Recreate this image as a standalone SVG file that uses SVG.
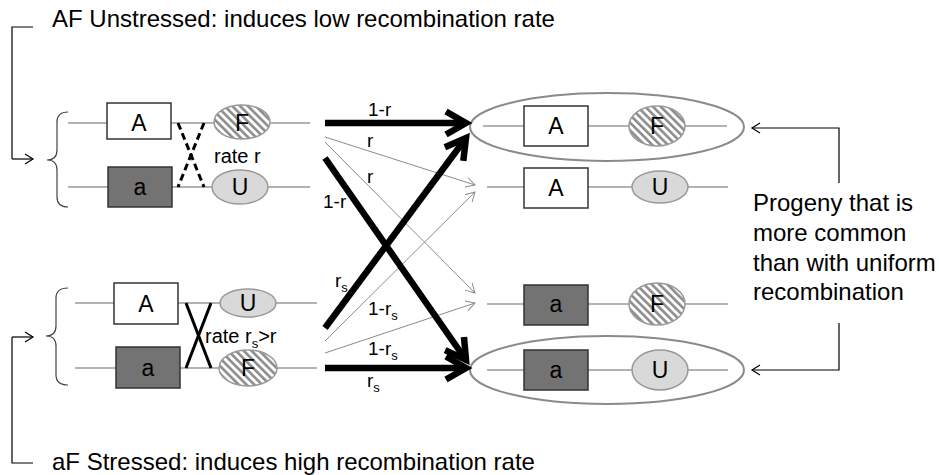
<svg xmlns="http://www.w3.org/2000/svg" width="939" height="475" viewBox="0 0 939 475">
<style>
text{font-family:"Liberation Sans",Arial,sans-serif;fill:#000}
.big{font-size:24px}
.gl{font-size:23px;text-anchor:middle}
.lab{font-size:19px}
.sub{font-size:13px}
.chr{stroke:#999;stroke-width:1.5;fill:none}
.boxA{fill:#fff;stroke:#333;stroke-width:1.5}
.boxa{fill:#737373;stroke:#333;stroke-width:1.5}
.elU{fill:#d9d9d9;stroke:#999;stroke-width:1.5}
.elF{fill:url(#hatch);stroke:#999;stroke-width:1.5}
.big-el{fill:none;stroke:#8a8a8a;stroke-width:2}
.thick{stroke:#000;stroke-width:6.5;fill:none;marker-end:url(#bigHead)}
.thin{stroke:#8c8c8c;stroke-width:1;fill:none;marker-end:url(#thinHead)}
.ann{stroke:#000;stroke-width:1.2;fill:none}
.annA{stroke:#000;stroke-width:1.2;fill:none;marker-end:url(#annHead)}
.brace{stroke:#444;stroke-width:1.2;fill:none}
</style>
<defs>
<pattern id="hatch" patternUnits="userSpaceOnUse" width="5.5" height="5.5" patternTransform="rotate(-45)">
<rect width="5.5" height="5.5" fill="#fff"/>
<rect width="2.6" height="5.5" fill="#8c8c8c"/>
</pattern>
<marker id="bigHead" markerUnits="userSpaceOnUse" viewBox="-26 -14 30 28" refX="0" refY="0" markerWidth="30" markerHeight="28" orient="auto" overflow="visible">
<path d="M-20,-11.5 L0,0 L-20,11.5" fill="none" stroke="#000" stroke-width="6.5" stroke-linejoin="miter"/>
</marker>
<marker id="thinHead" markerUnits="userSpaceOnUse" viewBox="-10 -6 12 12" refX="0" refY="0" markerWidth="12" markerHeight="12" orient="auto" overflow="visible">
<path d="M-9,-5 L0,0 L-9,5" fill="none" stroke="#8c8c8c" stroke-width="1"/>
</marker>
<marker id="annHead" markerUnits="userSpaceOnUse" viewBox="-10 -6 12 12" refX="0" refY="0" markerWidth="12" markerHeight="12" orient="auto" overflow="visible">
<path d="M-8,-5 L0,0 L-8,5" fill="none" stroke="#000" stroke-width="1.2"/>
</marker>
</defs>
<rect width="939" height="475" fill="#fff"/>

<g id="title-top">
<text class="big" x="52" y="27">AF Unstressed: induces low recombination rate</text>
</g>
<g id="title-bottom">
<text class="big" x="52" y="470">aF Stressed: induces high recombination rate</text>
</g>

<g id="parent-AF">
<path class="brace" d="M68,112 Q57,112 57,122 L57,150 Q57,160 47,160 Q57,160 57,170 L57,197 Q57,207 68,207"/>
<line class="chr" x1="68" y1="123" x2="310" y2="123"/>
<rect class="boxA" x="107" y="103" width="64" height="36"/>
<text class="gl" x="139" y="131">A</text>
<ellipse class="elF" cx="242" cy="122" rx="28" ry="17"/>
<text class="gl" x="242" y="131">F</text>
<line class="chr" x1="68" y1="187" x2="310" y2="187"/>
<rect class="boxa" x="108" y="167" width="64" height="40"/>
<text class="gl" x="140" y="195">a</text>
<ellipse class="elU" cx="240" cy="187" rx="28" ry="17"/>
<text class="gl" x="240" y="195">U</text>
<line x1="178" y1="123" x2="204" y2="187" stroke="#000" stroke-width="3" stroke-dasharray="7,4"/>
<line x1="204" y1="123" x2="178" y2="187" stroke="#000" stroke-width="3" stroke-dasharray="7,4"/>
<text class="lab" x="214" y="163" style="font-size:20px">rate r</text>
</g>

<g id="parent-aF">
<path class="brace" d="M68,288 Q56,288 56,298 L56,326 Q56,336 46,336 Q56,336 56,346 L56,375 Q56,385 68,385"/>
<line class="chr" x1="75" y1="303" x2="317" y2="303"/>
<rect class="boxA" x="114" y="283" width="64" height="41"/>
<text class="gl" x="146" y="312">A</text>
<ellipse class="elU" cx="248" cy="303" rx="28" ry="14"/>
<text class="gl" x="248" y="311">U</text>
<line class="chr" x1="75" y1="368" x2="317" y2="368"/>
<rect class="boxa" x="116" y="347" width="64" height="41"/>
<text class="gl" x="148" y="376">a</text>
<ellipse class="elF" cx="248" cy="368" rx="29" ry="18"/>
<text class="gl" x="248" y="376">F</text>
<line x1="186" y1="303" x2="211" y2="368" stroke="#000" stroke-width="3"/>
<line x1="211" y1="303" x2="186" y2="368" stroke="#000" stroke-width="3"/>
<text x="205" y="343" style="font-size:20px">rate r<tspan class="sub" dy="5">s</tspan><tspan dy="-5">&gt;r</tspan></text>
</g>

<g id="progeny-AF">
<ellipse class="big-el" cx="607" cy="127" rx="137" ry="34"/>
<line class="chr" x1="483" y1="126" x2="727" y2="126"/>
<rect class="boxA" x="524" y="106" width="64" height="40"/>
<text class="gl" x="556" y="134">A</text>
<ellipse class="elF" cx="657" cy="126" rx="28" ry="20"/>
<text class="gl" x="657" y="134">F</text>
</g>
<g id="progeny-AU">
<line class="chr" x1="487" y1="187" x2="728" y2="187"/>
<rect class="boxA" x="524" y="168" width="64" height="40"/>
<text class="gl" x="556" y="196">A</text>
<ellipse class="elU" cx="660" cy="187" rx="28" ry="16"/>
<text class="gl" x="660" y="195">U</text>
</g>
<g id="progeny-aF">
<line class="chr" x1="487" y1="304" x2="728" y2="304"/>
<rect class="boxa" x="524" y="285" width="64" height="40"/>
<text class="gl" x="556" y="312">a</text>
<ellipse class="elF" cx="657" cy="304" rx="28" ry="21"/>
<text class="gl" x="657" y="312">F</text>
</g>
<g id="progeny-aU">
<ellipse class="big-el" cx="607" cy="370" rx="137" ry="34"/>
<line class="chr" x1="487" y1="370" x2="728" y2="370"/>
<rect class="boxa" x="524" y="350" width="64" height="40"/>
<text class="gl" x="556" y="378">a</text>
<ellipse class="elU" cx="660" cy="370" rx="28" ry="20"/>
<text class="gl" x="660" y="378">U</text>
</g>

<g id="note">
<text class="big" x="753" y="211">Progeny that is</text>
<text class="big" x="753" y="241">more common</text>
<text class="big" x="753" y="271">than with uniform</text>
<text class="big" x="753" y="300">recombination</text>
</g>

<g id="connectors">
<polyline class="ann" points="33,27 12,27 12,159"/>
<line class="annA" x1="12" y1="159" x2="33" y2="159"/>
<polyline class="ann" points="33,463 12,463 12,337"/>
<line class="annA" x1="12" y1="337" x2="33" y2="337"/>
<polyline class="annA" points="839,183 839,128 752,128"/>
<polyline class="annA" points="839,323 839,370 752,370"/>

<line class="thin" x1="325" y1="137" x2="475" y2="185"/>
<line class="thin" x1="325" y1="142" x2="475" y2="293"/>
<line class="thin" x1="325" y1="341" x2="475" y2="192"/>
<line class="thin" x1="325" y1="353" x2="475" y2="303"/>

<line class="thick" x1="325" y1="123" x2="466" y2="123"/>
<line class="thick" x1="325" y1="158" x2="466" y2="360"/>
<line class="thick" x1="325" y1="328" x2="466" y2="138"/>
<line class="thick" x1="325" y1="368" x2="466" y2="368"/>

<text class="lab" x="368" y="116">1-r</text>
<text class="lab" x="367" y="147">r</text>
<text class="lab" x="367" y="183">r</text>
<text class="lab" x="323" y="208">1-r</text>
<text class="lab" x="335" y="287">r<tspan class="sub" dy="5">s</tspan></text>
<text class="lab" x="368" y="315">1-r<tspan class="sub" dy="5">s</tspan></text>
<text class="lab" x="368" y="355">1-r<tspan class="sub" dy="5">s</tspan></text>
<text class="lab" x="367" y="387">r<tspan class="sub" dy="5">s</tspan></text>
</g>
</svg>
